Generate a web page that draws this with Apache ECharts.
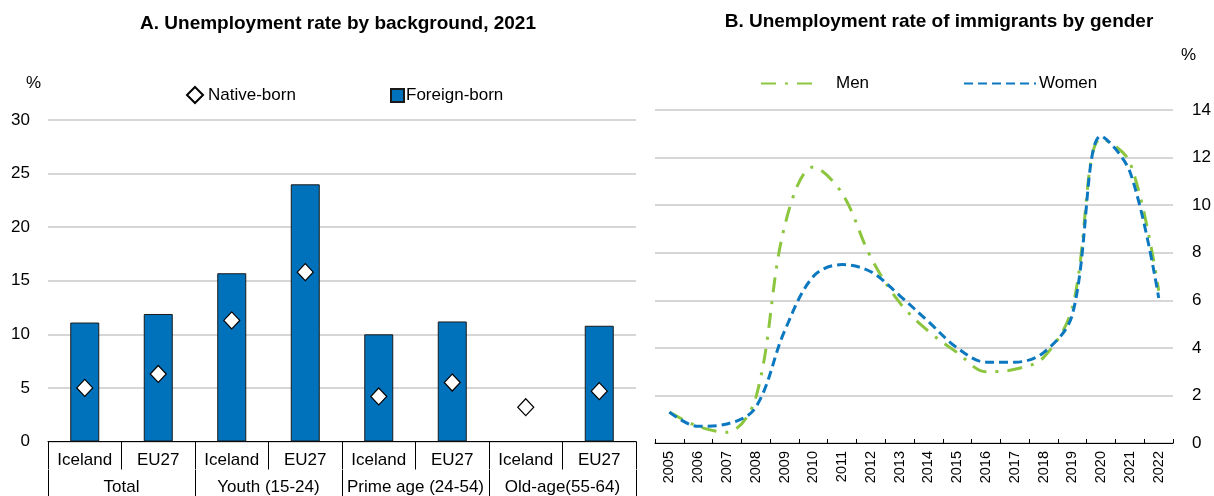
<!DOCTYPE html>
<html>
<head>
<meta charset="utf-8">
<script src="https://cdn.jsdelivr.net/npm/echarts@6/dist/echarts.min.js"></script>
<style>
html,body{margin:0;padding:0;background:#fff;}
#c{width:1214px;height:496px;}
</style>
</head>
<body>
<div id="c"></div>
<script>
// Panel A data
var catsA = ['Iceland', 'EU27', 'Iceland', 'EU27', 'Iceland', 'EU27', 'Iceland', 'EU27'];
var groupsA = ['Total', 'Youth (15-24)', 'Prime age (24-54)', 'Old-age(55-64)'];
var foreignBorn = [11.1, 11.9, 15.7, 24.0, 10.0, 11.2, null, 10.8];
var nativeBorn = [5.0, 6.3, 11.3, 15.8, 4.2, 5.5, 3.2, 4.7];
// Panel B data
var years = ['2005','2006','2007','2008','2009','2010','2011','2012','2013','2014','2015','2016','2017','2018','2019','2020','2021','2022'];
var men =   [1.3, 0.7, 0.45, 1.9, 9.1, 11.6, 10.5, 7.8, 5.9, 4.7, 3.8, 3.0, 3.1, 3.6, 5.7, 12.8, 11.8, 6.4];
var women = [1.3, 0.7, 0.8, 1.5, 4.7, 7.0, 7.5, 7.2, 6.2, 5.1, 4.0, 3.4, 3.4, 3.8, 5.4, 12.9, 11.4, 6.1];

var FONT = '"Liberation Sans", Arial, sans-serif';
var GREEN = '#8CC63F';
var BLUE = '#0B78C0';
var BAR = '#0072BC';
var GRID = '#c8c8c8';

var chart = echarts.init(document.getElementById('c'), null, {renderer: 'canvas'});
chart.setOption({
  animation: false,
  textStyle: {fontFamily: FONT, color: '#000'},
  title: [
    {text: 'A. Unemployment rate by background, 2021', left: 338, top: 14, textAlign: 'center', padding: 0,
     textStyle: {fontFamily: FONT, fontSize: 19, fontWeight: 'bold', color: '#000'}},
    {text: 'B. Unemployment rate of immigrants by gender', left: 939, top: 12, textAlign: 'center', padding: 0,
     textStyle: {fontFamily: FONT, fontSize: 19, fontWeight: 'bold', color: '#000'}}
  ],
  legend: [
    {data: ['Native-born'], left: 186, top: 86, padding: 0, itemWidth: 16, itemHeight: 16,
     textStyle: {fontFamily: FONT, fontSize: 17, color: '#000'}},
    {data: ['Foreign-born'], left: 390, top: 87, padding: 0, itemWidth: 13, itemHeight: 13, icon: 'rect',
     textStyle: {fontFamily: FONT, fontSize: 17, color: '#000', padding: [0, 0, 0, -3]}},
    {data: ['Men'], left: 760, top: 75, padding: 0, itemWidth: 58, itemHeight: 14,
     itemStyle: {opacity: 0},
     textStyle: {fontFamily: FONT, fontSize: 17, color: '#000', padding: [0, 0, 0, 12]}},
    {data: ['Women'], left: 963, top: 75, padding: 0, itemWidth: 72, itemHeight: 14,
     itemStyle: {opacity: 0},
     textStyle: {fontFamily: FONT, fontSize: 17, color: '#000', padding: [0, 0, 0, -2]}}
  ],
  grid: [
    {left: 48, right: 578, top: 120, bottom: 54.5},
    {left: 655, right: 36, top: 110, bottom: 53}
  ],
  xAxis: [
    {type: 'category', gridIndex: 0, data: catsA, position: 'bottom',
     axisLine: {lineStyle: {color: '#000', width: 1}},
     axisTick: {show: true, length: 28, interval: 0, lineStyle: {color: '#000'}},
     axisLabel: {interval: 0, margin: 10, fontSize: 17, color: '#000', fontFamily: FONT},
     splitLine: {show: false}},
    {type: 'category', gridIndex: 0, data: groupsA, position: 'bottom', offset: 28.5,
     axisLine: {show: false},
     axisTick: {show: true, length: 32, interval: 0, lineStyle: {color: '#000'}},
     axisLabel: {interval: 0, margin: 9, fontSize: 17, color: '#000', fontFamily: FONT},
     splitLine: {show: false}},
    {type: 'category', gridIndex: 1, data: years, position: 'bottom',
     axisLine: {lineStyle: {color: '#000', width: 1}},
     axisTick: {show: true, inside: true, length: 4, interval: 0, lineStyle: {color: '#000'}},
     axisLabel: {interval: 0, rotate: 90, margin: 8, fontSize: 14.5, color: '#000', fontFamily: FONT},
     splitLine: {show: false}}
  ],
  yAxis: [
    {type: 'value', gridIndex: 0, min: 0, max: 30, interval: 5, name: '%', nameLocation: 'end', nameGap: 28,
     nameTextStyle: {fontFamily: FONT, fontSize: 17, color: '#000', align: 'right', padding: [0, 7, 0, 0]},
     axisLine: {show: false}, axisTick: {show: false},
     axisLabel: {margin: 18, fontSize: 17, color: '#000', fontFamily: FONT},
     splitLine: {lineStyle: {color: GRID, width: 1.5}}},
    {type: 'value', gridIndex: 1, position: 'right', min: 0, max: 14, interval: 2, name: '%', nameLocation: 'end', nameGap: 46,
     nameTextStyle: {fontFamily: FONT, fontSize: 17, color: '#000', align: 'left', padding: [0, 0, 0, 8]},
     axisLine: {show: false}, axisTick: {show: false},
     axisLabel: {margin: 19, fontSize: 17, color: '#000', fontFamily: FONT},
     splitLine: {lineStyle: {color: GRID, width: 1.5}}}
  ],
  series: [
    {name: 'Foreign-born', type: 'bar', xAxisIndex: 0, yAxisIndex: 0, data: foreignBorn, barWidth: 29,
     itemStyle: {color: BAR, borderColor: '#1a1a1a', borderWidth: 1}},
    {name: 'Native-born', type: 'scatter', xAxisIndex: 0, yAxisIndex: 0, data: nativeBorn, symbol: 'diamond', symbolSize: [16, 17],
     itemStyle: {color: '#fff', borderColor: '#000', borderWidth: 1.2, opacity: 1}, z: 5},
    {name: 'Men', type: 'line', xAxisIndex: 2, yAxisIndex: 1, data: men, smooth: 0.35, symbol: 'none',
     lineStyle: {color: GREEN, width: 3, type: [15, 9, 3, 9]}, itemStyle: {color: GREEN}},
    {name: 'Women', type: 'line', xAxisIndex: 2, yAxisIndex: 1, data: women, smooth: 0.35, symbol: 'none',
     lineStyle: {color: BLUE, width: 3, type: [9, 5]}, itemStyle: {color: BLUE}, z: 3}
  ]
});
</script>
</body>
</html>
